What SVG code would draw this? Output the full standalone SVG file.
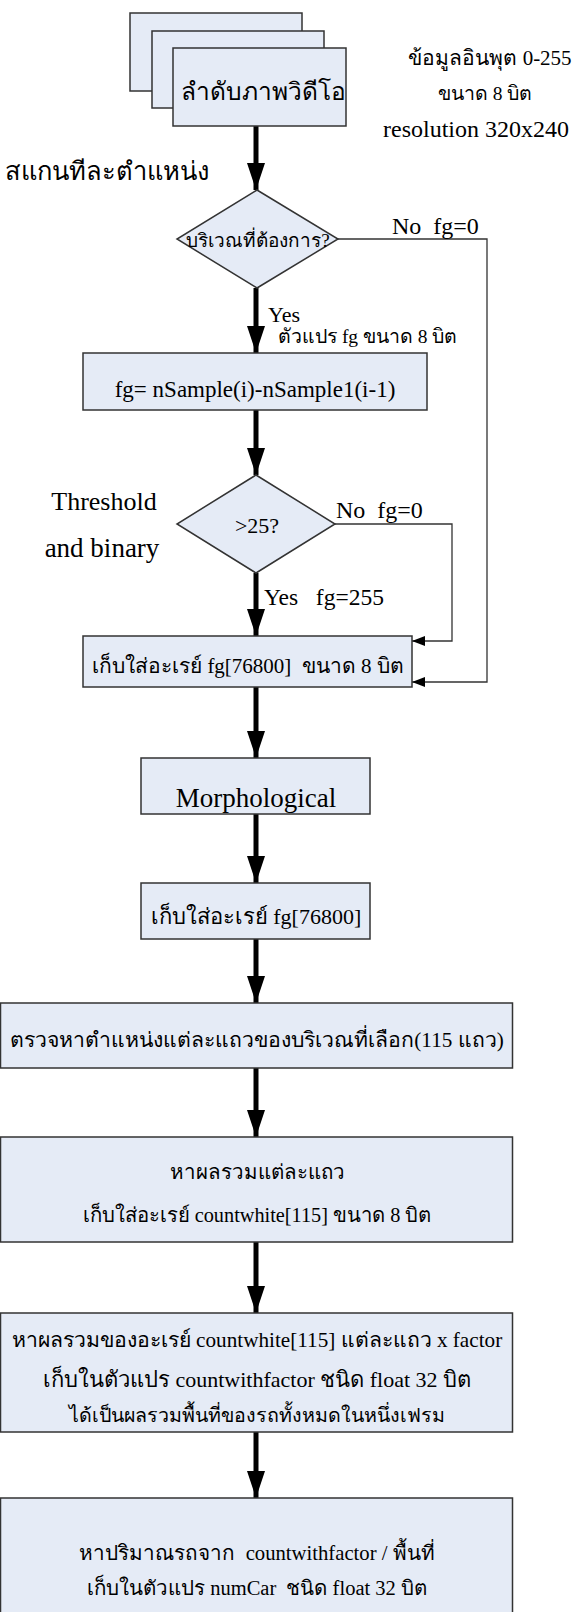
<svg xmlns="http://www.w3.org/2000/svg" width="576" height="1612" viewBox="0 0 576 1612">
<defs>
<style>
.n{fill:#E5EBF6;stroke:#333;stroke-width:1.5}
.t{font-family:"Liberation Serif",serif;fill:#000}
.c{text-anchor:middle}
.thick{stroke:#000;stroke-width:5;fill:none}
.thin{stroke:#333;stroke-width:1.3;fill:none}
</style>
<marker id="big" markerUnits="userSpaceOnUse" markerWidth="28" markerHeight="20" refX="27" refY="9" orient="auto"><path d="M0,0 L27,9 L0,18 z" fill="#000"/></marker>
<marker id="small" markerUnits="userSpaceOnUse" markerWidth="14" markerHeight="12" refX="13" refY="5" orient="auto"><path d="M0,0 L13,5 L0,10 z" fill="#000"/></marker>
</defs>
<rect width="576" height="1612" fill="#fff"/>
<g id="connectors">
<path class="thick" d="M256,126 V190" marker-end="url(#big)"/>
<path class="thick" d="M256,288 V353" marker-end="url(#big)"/>
<path class="thick" d="M256,410 V475" marker-end="url(#big)"/>
<path class="thick" d="M256,573 V636" marker-end="url(#big)"/>
<path class="thick" d="M256,687 V758" marker-end="url(#big)"/>
<path class="thick" d="M256,814 V883" marker-end="url(#big)"/>
<path class="thick" d="M256,939 V1003" marker-end="url(#big)"/>
<path class="thick" d="M256,1068 V1137" marker-end="url(#big)"/>
<path class="thick" d="M256,1242 V1313" marker-end="url(#big)"/>
<path class="thick" d="M256,1432 V1498" marker-end="url(#big)"/>
<path class="thin" d="M338,239 H487 V682 H412" marker-end="url(#small)"/>
<path class="thin" d="M335,524 H452 V641 H412" marker-end="url(#small)"/>
<text class="t" x="392" y="234" font-size="24" xml:space="preserve">No  fg=0</text>
<text class="t" x="268" y="322" font-size="22">Yes</text>
<text class="t" x="278" y="343" font-size="19.5">ตัวแปร fg ขนาด 8 บิต</text>
<text class="t" x="336" y="518" font-size="24" xml:space="preserve">No  fg=0</text>
<text class="t" x="264" y="605" font-size="23.5" xml:space="preserve">Yes   fg=255</text>
</g>
<g id="video">
<rect class="n" x="130" y="13" width="172" height="78"/>
<rect class="n" x="152" y="31" width="172" height="77"/>
<rect class="n" x="173" y="48" width="173" height="78"/>
<text class="t c" x="263" y="100" font-size="24.5">ลำดับภาพวิดีโอ</text>
</g>
<g id="input-note">
<text class="t c" x="490" y="65" font-size="21">ข้อมูลอินพุต 0-255</text>
<text class="t c" x="485" y="100" font-size="19.5">ขนาด 8 บิต</text>
<text class="t c" x="476" y="137" font-size="24">resolution 320x240</text>
</g>
<g id="scan-note">
<text class="t" x="5" y="180" font-size="25.5">สแกนทีละตำแหน่ง</text>
</g>
<g id="decision-area">
<polygon class="n" points="257,190 338,239 257,288 177,239"/>
<text class="t c" x="258" y="247" font-size="19">บริเวณที่ต้องการ?</text>
</g>
<g id="diff">
<rect class="n" x="83" y="353" width="344" height="57"/>
<text class="t c" x="255" y="397" font-size="23">fg= nSample(i)-nSample1(i-1)</text>
</g>
<g id="threshold-note">
<text class="t c" x="104" y="510" font-size="26">Threshold</text>
<text class="t c" x="102" y="557" font-size="27">and binary</text>
</g>
<g id="decision-threshold">
<polygon class="n" points="256,475 335,524 256,573 177,524"/>
<text class="t c" x="257" y="533" font-size="22">&gt;25?</text>
</g>
<g id="store-fg">
<rect class="n" x="83" y="636" width="329" height="51"/>
<text class="t c" x="248" y="673" font-size="21" xml:space="preserve">เก็บใส่อะเรย์ fg[76800]  ขนาด 8 บิต</text>
</g>
<g id="morph">
<rect class="n" x="141" y="758" width="229" height="56"/>
<text class="t c" x="256" y="807" font-size="27">Morphological</text>
</g>
<g id="store-fg2">
<rect class="n" x="141" y="883" width="229" height="56"/>
<text class="t c" x="256" y="924" font-size="22">เก็บใส่อะเรย์ fg[76800]</text>
</g>
<g id="rows">
<rect class="n" x="0.5" y="1003" width="512" height="65"/>
<text class="t c" x="257" y="1047" font-size="21.2">ตรวจหาตำแหน่งแต่ละแถวของบริเวณที่เลือก(115 แถว)</text>
</g>
<g id="sum-rows">
<rect class="n" x="0.5" y="1137" width="512" height="105"/>
<text class="t c" x="257" y="1179" font-size="20.5">หาผลรวมแต่ละแถว</text>
<text class="t c" x="257" y="1222" font-size="20.3">เก็บใส่อะเรย์ countwhite[115] ขนาด 8 บิต</text>
</g>
<g id="sum-factor">
<rect class="n" x="0.5" y="1313" width="512" height="119"/>
<text class="t c" x="257" y="1347" font-size="21.2">หาผลรวมของอะเรย์ countwhite[115] แต่ละแถว x factor</text>
<text class="t c" x="257" y="1387" font-size="22">เก็บในตัวแปร countwithfactor ชนิด float 32 บิต</text>
<text class="t c" x="257" y="1422" font-size="19.6">ได้เป็นผลรวมพื้นที่ของรถทั้งหมดในหนึ่งเฟรม</text>
</g>
<g id="num-car">
<rect class="n" x="0.5" y="1498" width="512" height="130"/>
<text class="t c" x="257" y="1560" font-size="20.7" xml:space="preserve">หาปริมาณรถจาก  countwithfactor / พื้นที่</text>
<text class="t c" x="257" y="1595" font-size="20.5" xml:space="preserve">เก็บในตัวแปร numCar  ชนิด float 32 บิต</text>
</g>
</svg>
